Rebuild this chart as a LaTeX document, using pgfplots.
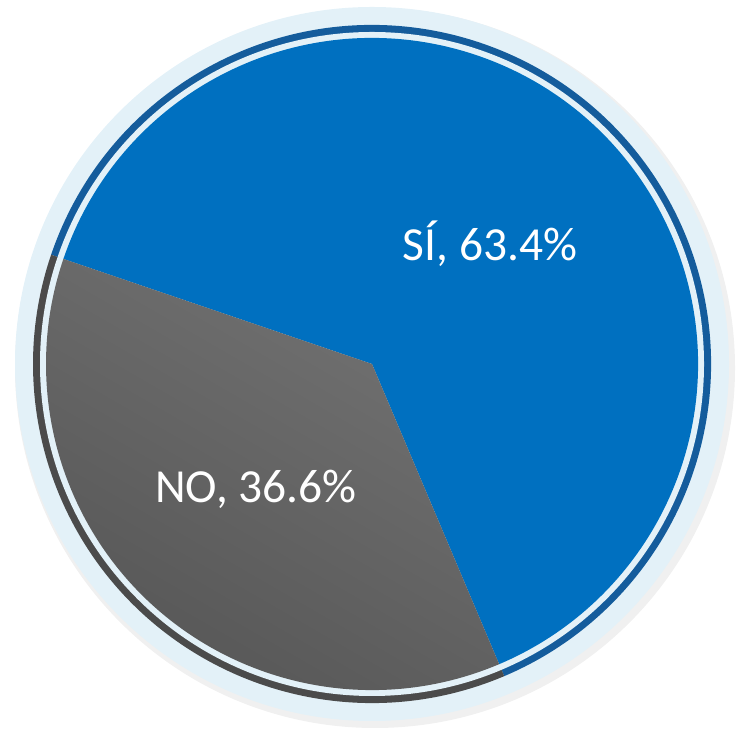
\documentclass[border=0pt]{standalone}
\usepackage{pgfplots}
\usepackage{pgfplotstable}
\pgfplotsset{compat=1.18}
\usepackage{fontspec}
\setmainfont{Carlito}
\definecolor{ringbg}{HTML}{E3F1F8}
\definecolor{piblue}{HTML}{0070C0}
\definecolor{darkblue}{HTML}{145C9C}
\definecolor{pigray}{HTML}{6A6A6A}
\definecolor{darkgray}{HTML}{4B4B4B}
\pgfplotstableread{
label value
SI 63.4
NO 36.6
}\piedata
\begin{document}
\begin{tikzpicture}
\pgfplotstablegetelem{0}{value}\of\piedata \let\vsi\pgfplotsretval
\pgfplotstablegetelem{1}{value}\of\piedata \let\vno\pgfplotsretval
\pgfmathsetmacro{\aStart}{161.2}
\pgfmathsetmacro{\aMid}{\aStart-3.6*\vsi}
\pgfmathsetmacro{\aEnd}{\aMid-3.6*\vno}
\pgfmathsetmacro{\xa}{372+339*cos(\aStart)}\pgfmathsetmacro{\ya}{372+339*sin(\aStart)}
\pgfmathsetmacro{\xb}{372+339*cos(\aMid)}\pgfmathsetmacro{\yb}{372+339*sin(\aMid)}
\pgfmathsetmacro{\xc}{372+326*cos(\aStart)}\pgfmathsetmacro{\yc}{372+326*sin(\aStart)}
\pgfmathsetmacro{\xd}{372+326*cos(\aMid)}\pgfmathsetmacro{\yd}{372+326*sin(\aMid)}
\begin{axis}[hide axis, scale only axis, width=7.35cm, height=7.36cm,
  xmin=0, xmax=735, ymin=0, ymax=736, clip=false]
% shadow
\fill[black!12] (axis cs:374,369) circle[radius=358];
\fill[black!6] (axis cs:375,368) circle[radius=360];
\fill[ringbg] (axis cs:372,372) circle[radius=357];
% outer ring sectors
\fill[darkblue] (axis cs:372,372) -- (axis cs:\xa,\ya) arc[start angle=\aStart, end angle=\aMid, radius=339] -- cycle;
\fill[darkgray] (axis cs:372,372) -- (axis cs:\xb,\yb) arc[start angle=\aMid, end angle=\aEnd, radius=339] -- cycle;
\fill[ringbg] (axis cs:372,372) circle[radius=332];
% pie
\fill[piblue] (axis cs:372,372) -- (axis cs:\xc,\yc) arc[start angle=\aStart, end angle=\aMid, radius=326] -- cycle;
\shade[top color=pigray!95!white, bottom color=pigray!80!black, shading angle=-30] (axis cs:372,372) -- (axis cs:\xd,\yd) arc[start angle=\aMid, end angle=\aEnd, radius=326] -- cycle;
\node[text=white, font=\fontsize{13.5}{16}\selectfont] at (axis cs:490,492) {SÍ, 63.4\%};
\node[text=white, font=\fontsize{13.5}{16}\selectfont] at (axis cs:256,247) {NO, 36.6\%};
\end{axis}
\pgfresetboundingbox
\path (0,0) rectangle (7.35cm,7.36cm);
\end{tikzpicture}
\end{document}
